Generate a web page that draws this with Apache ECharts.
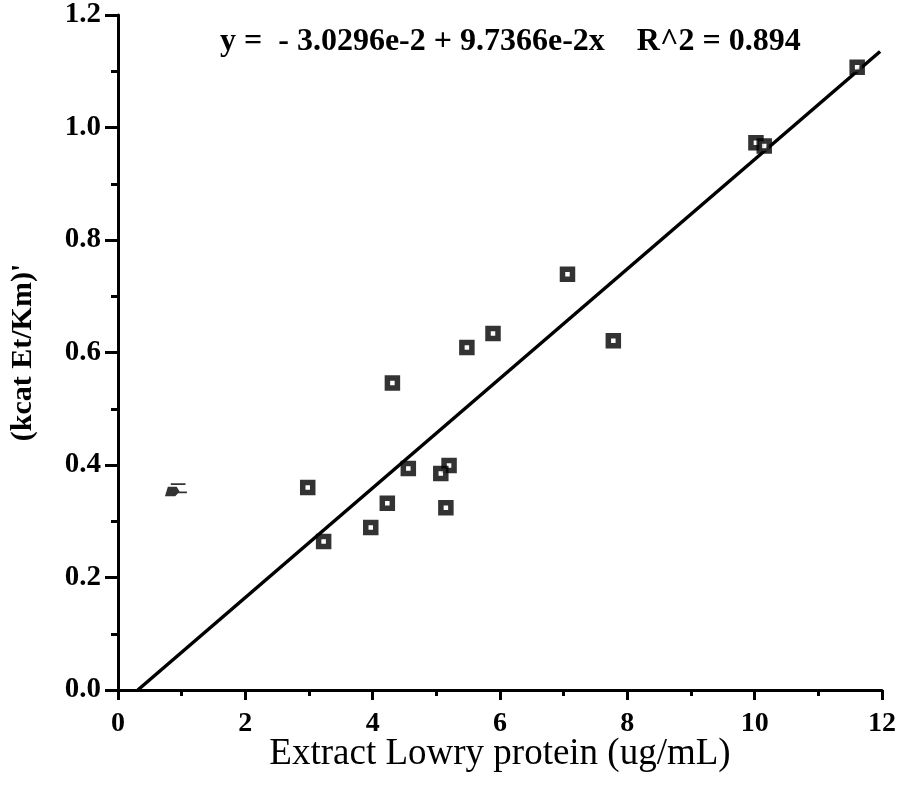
<!DOCTYPE html>
<html>
<head>
<meta charset="utf-8">
<script src="https://cdn.jsdelivr.net/npm/echarts@6/dist/echarts.min.js"></script>
<style>html,body{margin:0;padding:0;background:#fff}#c{width:899px;height:791px}</style>
</head>
<body>
<div id="c"></div>
<script>
// Data
const proteinX = [11.61, 10.02, 10.15, 7.06, 7.78, 5.89, 5.48, 4.31, 4.56, 5.20, 5.07, 5.15, 4.23, 3.97, 2.98, 3.23];
const kcatY    = [1.107, 0.973, 0.967, 0.739, 0.621, 0.634, 0.609, 0.546, 0.394, 0.399, 0.385, 0.324, 0.332, 0.289, 0.360, 0.264];
const smudgeX = [0.91];
const smudgeY = [0.356];
const fitIntercept = -3.0296e-2;
const fitSlope = 9.7366e-2;
const fitXRange = [-fitIntercept / fitSlope, 11.97];
const xTicks = [0, 2, 4, 6, 8, 10, 12];
const yTicks = [0.0, 0.2, 0.4, 0.6, 0.8, 1.0, 1.2];
const eqText = 'y =  - 3.0296e-2 + 9.7366e-2x    R^2 = 0.894';
const xTitle = 'Extract Lowry protein (ug/mL)';
const yTitle = "(kcat Et/Km)'";

const pts = proteinX.map((x, i) => [x, kcatY[i]]);
const smudge = smudgeX.map((x, i) => [x, smudgeY[i]]);
const fitLine = fitXRange.map(x => [x, fitIntercept + fitSlope * x]);

const font = 'Liberation Serif';
const chart = echarts.init(document.getElementById('c'), null, {renderer: 'canvas'});
chart.setOption({
  backgroundColor: '#fff',
  animation: false,
  grid: {left: 117, right: 15, top: 15, bottom: 101},
  xAxis: {
    type: 'value', min: xTicks[0], max: xTicks[xTicks.length - 1], interval: 2,
    name: xTitle, nameLocation: 'middle', nameGap: 46, nameMoveOverlap: false,
    nameTextStyle: {fontFamily: font, fontSize: 37, color: '#000'},
    axisLine: {lineStyle: {color: '#000', width: 3}},
    axisTick: {length: 10, lineStyle: {color: '#000', width: 3}},
    minorTick: {show: true, splitNumber: 2, length: 6, lineStyle: {color: '#000', width: 3}},
    axisLabel: {fontFamily: font, fontSize: 28, fontWeight: 'bold', color: '#000', margin: 20},
    splitLine: {show: false}
  },
  yAxis: {
    type: 'value', min: yTicks[0], max: yTicks[yTicks.length - 1], interval: 0.2,
    name: yTitle, nameLocation: 'middle', nameGap: 80, nameRotate: 90, nameMoveOverlap: false,
    nameTextStyle: {fontFamily: font, fontSize: 30, fontWeight: 'bold', color: '#000'},
    axisLine: {lineStyle: {color: '#000', width: 3}},
    axisTick: {length: 13, lineStyle: {color: '#000', width: 3}},
    minorTick: {show: true, splitNumber: 2, length: 7, lineStyle: {color: '#000', width: 3}},
    axisLabel: {fontFamily: font, fontSize: 29, fontWeight: 'bold', color: '#000', margin: 17,
      formatter: v => v.toFixed(1)},
    splitLine: {show: false}
  },
  graphic: [{
    type: 'text', left: 220, top: 26,
    style: {text: eqText, font: 'bold 32px "Liberation Serif"', fill: '#000'}
  }],
  series: [
    {
      type: 'line', data: fitLine, symbol: 'none', silent: true,
      lineStyle: {color: '#000', width: 3.5}, z: 2
    },
    {
      type: 'scatter', data: pts, symbol: 'rect', symbolSize: 10,
      itemStyle: {color: '#fff', borderColor: '#000', borderWidth: 5.5}, z: 3
    },
    {
      type: 'scatter', data: smudge,
      symbol: 'path://M4,0H14V1.5H4Z M2,3H8L10,7H15V8.5H9L7,11H0Z',
      symbolSize: [22, 13],
      itemStyle: {color: '#000'}, z: 3
    }
  ]
});
</script>
</body>
</html>
